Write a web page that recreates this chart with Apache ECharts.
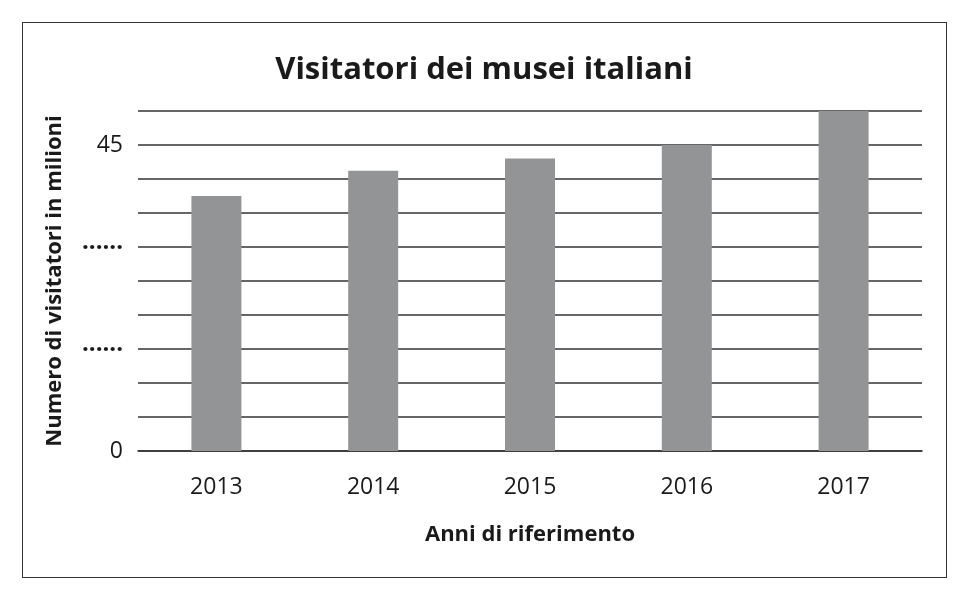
<!DOCTYPE html>
<html lang="it">
<head>
  <meta charset="UTF-8">
  <script src="https://cdn.jsdelivr.net/npm/echarts@6/dist/echarts.min.js"></script>
  <title>Visitatori dei musei italiani</title>
  <style>
    * {margin: 0; padding: 0;}
    html, body {
      width: 100%;
      height: 100%;
      overflow: hidden;
      background-color: #fff;
    }
    #frame {
      position: absolute;
      left: 22px;
      top: 22px;
      width: 923px;
      height: 554px;
      border: 1px solid #333;
    }
    #chart {
      position: absolute;
      left: 0;
      top: 0;
      width: 968px;
      height: 602px;
    }
  </style>
</head>
<body>
  <div id="frame"></div>
  <div id="chart"></div>
<script>
var years = ['2013', '2014', '2015', '2016', '2017']
var visitors = [37.5, 41.2, 43.0, 45.0, 50.0]
// only some ticks carry a label, the rest are blank in the original
var tickValues = [0, 15, 30, 45]
var tickTexts = ['0', '......', '......', '45']

window.onload = function () {
  var font = '"Open Sans", "Noto Sans", sans-serif'
  var option = {
    animation: false,
    title: {
      text: 'Visitatori dei musei italiani',
      left: 'center',
      top: 50,
      textStyle: {
        fontFamily: font,
        fontWeight: 'bold',
        fontSize: 31,
        color: '#1a1a1a'
      }
    },
    grid: {
      left: 138,
      right: 46,
      top: 111,
      bottom: 151
    },
    xAxis: {
      type: 'category',
      data: years,
      name: 'Anni di riferimento',
      nameLocation: 'middle',
      nameGap: 73,
      nameTextStyle: {
        fontFamily: font,
        fontWeight: 'bold',
        fontSize: 22,
        color: '#1a1a1a'
      },
      axisLine: {show: true, lineStyle: {color: '#333', width: 1.5}},
      axisTick: {show: false},
      axisLabel: {
        margin: 25,
        fontFamily: font,
        fontSize: 23,
        color: '#1a1a1a'
      }
    },
    yAxis: {
      type: 'value',
      min: 0,
      max: 50,
      interval: 5,
      name: 'Numero di visitatori in milioni',
      nameLocation: 'middle',
      nameGap: 72,
      nameTextStyle: {
        fontFamily: font,
        fontWeight: 'bold',
        fontSize: 22,
        color: '#1a1a1a'
      },
      axisLine: {show: false},
      axisTick: {show: false},
      splitLine: {lineStyle: {color: '#333', width: 1.5}},
      axisLabel: {
        margin: 15,
        fontFamily: font,
        fontSize: 23,
        color: '#1a1a1a',
        formatter: function (v) {
          var i = tickValues.indexOf(v)
          if (i < 0) return ''
          return tickTexts[i] === '......' ? '{d|' + tickTexts[i] + '}' : tickTexts[i]
        },
        rich: {
          d: {
            fontFamily: font,
            fontWeight: 'bold',
            fontSize: 24,
            color: '#1a1a1a',
            padding: [0, 0, 10, 0]
          }
        }
      }
    },
    series: [
      {
        type: 'bar',
        data: visitors,
        barWidth: 50,
        itemStyle: {color: '#939496'}
      }
    ]
  }
  var chart = echarts.init(document.getElementById('chart'))
  chart.setOption(option)
}
</script>
</body>
</html>
